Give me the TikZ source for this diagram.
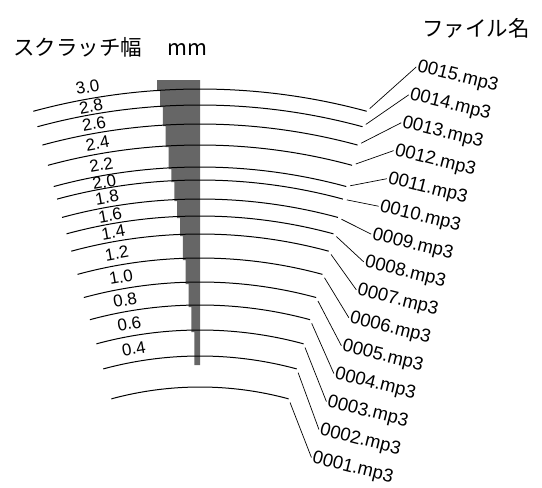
\documentclass[tikz,border=0pt]{standalone}
\usepackage{fontspec}
\setmainfont{Liberation Sans}
\newfontfamily\jpfont{Noto Sans CJK JP}
\usepackage{xcolor}
\usepackage{tikz}
\definecolor{barg}{HTML}{666666}
\tikzset{
  groove/.style={line width=1pt, draw=black},
  lead/.style={line width=0.7pt, draw=black, shorten <=4pt, shorten >=0.5pt},
  wlbl/.style={font=\fontsize{17}{17}\selectfont, inner sep=0pt, rotate=10},
  fname/.style={font=\fontsize{18.5}{18.5}\selectfont, inner sep=1pt, rotate=-14},
  head/.style={font=\jpfont\fontsize{21.5}{21.5}\selectfont, inner sep=0pt},
}
\begin{document}
\begin{tikzpicture}[x=1pt, y=1pt]
  \useasboundingbox (0,0) rectangle (542,-488);
  \coordinate (ctr) at (200,-725);
  % headings
  \node[head, anchor=west] (hwid) at (13,-47) {スクラッチ幅\hspace{1.2em}mm};
  \node[head] (hfile) at (476,-28) {ファイル名};
  % scratch width bar
  \fill[barg] (200,-80) -- (157.1,-80) -- (157.1,-91) -- (160,-91) -- (160,-107) -- (162.8,-107)
    -- (162.8,-126) -- (165.7,-126) -- (165.7,-147) -- (168.5,-147) -- (168.5,-169) -- (171.4,-169)
    -- (171.4,-182) -- (174.3,-182) -- (174.3,-201) -- (177.1,-201) -- (177.1,-218) -- (180,-218)
    -- (180,-236) -- (182.8,-236) -- (182.8,-260) -- (185.7,-260) -- (185.7,-284) -- (188.6,-284)
    -- (188.6,-307) -- (191.4,-307) -- (191.4,-332) -- (194.3,-332) -- (194.3,-365) -- (200,-365) -- cycle;
  % grooves
  \draw[groove] ([shift={(74.8:636)}]ctr) coordinate (e1) arc[start angle=74.8, end angle=105.2, radius=636];
  \draw[groove] ([shift={(74.8:620)}]ctr) coordinate (e2) arc[start angle=74.8, end angle=105.2, radius=620];
  \draw[groove] ([shift={(74.8:601)}]ctr) coordinate (e3) arc[start angle=74.8, end angle=105.2, radius=601];
  \draw[groove] ([shift={(74.8:580)}]ctr) coordinate (e4) arc[start angle=74.8, end angle=105.2, radius=580];
  \draw[groove] ([shift={(74.8:558)}]ctr) coordinate (e5) arc[start angle=74.8, end angle=105.2, radius=558];
  \draw[groove] ([shift={(74.8:545)}]ctr) coordinate (e6) arc[start angle=74.8, end angle=105.2, radius=545];
  \draw[groove] ([shift={(74.8:526)}]ctr) coordinate (e7) arc[start angle=74.8, end angle=105.2, radius=526];
  \draw[groove] ([shift={(74.8:509)}]ctr) coordinate (e8) arc[start angle=74.8, end angle=105.2, radius=509];
  \draw[groove] ([shift={(74.8:491)}]ctr) coordinate (e9) arc[start angle=74.8, end angle=105.2, radius=491];
  \draw[groove] ([shift={(74.8:467)}]ctr) coordinate (e10) arc[start angle=74.8, end angle=105.2, radius=467];
  \draw[groove] ([shift={(74.8:443)}]ctr) coordinate (e11) arc[start angle=74.8, end angle=105.2, radius=443];
  \draw[groove] ([shift={(74.8:420)}]ctr) coordinate (e12) arc[start angle=74.8, end angle=105.2, radius=420];
  \draw[groove] ([shift={(74.8:395)}]ctr) coordinate (e13) arc[start angle=74.8, end angle=105.2, radius=395];
  \draw[groove] ([shift={(74.8:369)}]ctr) coordinate (e14) arc[start angle=74.8, end angle=105.2, radius=369];
  \draw[groove] ([shift={(74.8:338)}]ctr) coordinate (e15) arc[start angle=74.8, end angle=105.2, radius=338];
  % width labels
  \node[wlbl] (w30) at ([shift={(100:648)}]ctr) {3.0};
  \node[wlbl] (w28) at ([shift={(100:628)}]ctr) {2.8};
  \node[wlbl] (w26) at ([shift={(100:610.5)}]ctr) {2.6};
  \node[wlbl] (w24) at ([shift={(100:590.5)}]ctr) {2.4};
  \node[wlbl] (w22) at ([shift={(100:569)}]ctr) {2.2};
  \node[wlbl] (w20) at ([shift={(100:551.5)}]ctr) {2.0};
  \node[wlbl] (w18) at ([shift={(100:535.5)}]ctr) {1.8};
  \node[wlbl] (w16) at ([shift={(100:517.5)}]ctr) {1.6};
  \node[wlbl] (w14) at ([shift={(100:500)}]ctr) {1.4};
  \node[wlbl] (w12) at ([shift={(100:479)}]ctr) {1.2};
  \node[wlbl] (w10) at ([shift={(100:455)}]ctr) {1.0};
  \node[wlbl] (w08) at ([shift={(100:431.5)}]ctr) {0.8};
  \node[wlbl] (w06) at ([shift={(100:407.5)}]ctr) {0.6};
  \node[wlbl] (w04) at ([shift={(100:382)}]ctr) {0.4};
  % file names
  \node[fname] (f15) at (457.7,-76.9) {0015.mp3};
  \node[fname] (f14) at (450.2,-104.8) {0014.mp3};
  \node[fname] (f13) at (442.7,-132.8) {0013.mp3};
  \node[fname] (f12) at (435.2,-160.7) {0012.mp3};
  \node[fname] (f11) at (427.7,-188.7) {0011.mp3};
  \node[fname] (f10) at (420.2,-216.6) {0010.mp3};
  \node[fname] (f09) at (412.7,-244.6) {0009.mp3};
  \node[fname] (f08) at (405.2,-272.5) {0008.mp3};
  \node[fname] (f07) at (397.7,-300.5) {0007.mp3};
  \node[fname] (f06) at (390.2,-328.4) {0006.mp3};
  \node[fname] (f05) at (382.7,-356.4) {0005.mp3};
  \node[fname] (f04) at (375.2,-384.3) {0004.mp3};
  \node[fname] (f03) at (367.7,-412.3) {0003.mp3};
  \node[fname] (f02) at (360.2,-440.2) {0002.mp3};
  \node[fname] (f01) at (352.7,-468.2) {0001.mp3};
  % leaders
  \draw[lead] (e1) -- (f15.west); \draw[lead] (e2) -- (f14.west); \draw[lead] (e3) -- (f13.west);
  \draw[lead] (e4) -- (f12.west); \draw[lead] (e5) -- (f11.west); \draw[lead] (e6) -- (f10.west);
  \draw[lead] (e7) -- (f09.west); \draw[lead] (e8) -- (f08.west); \draw[lead] (e9) -- (f07.west);
  \draw[lead] (e10) -- (f06.west); \draw[lead] (e11) -- (f05.west); \draw[lead] (e12) -- (f04.west);
  \draw[lead] (e13) -- (f03.west); \draw[lead] (e14) -- (f02.west); \draw[lead] (e15) -- (f01.west);
\end{tikzpicture}
\end{document}
